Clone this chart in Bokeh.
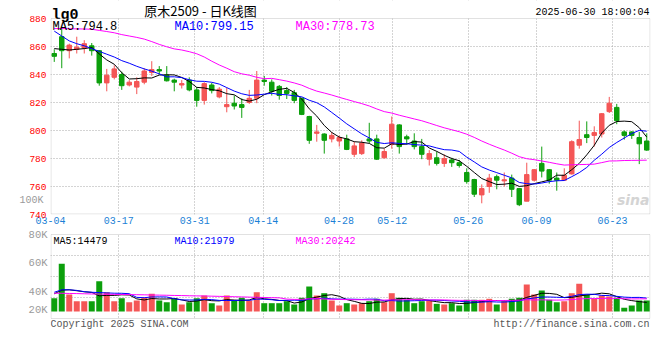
import numpy as np
from bokeh.plotting import figure
from bokeh.layouts import column
from bokeh.models import ColumnDataSource, FixedTicker, Label, Range1d, LinearAxis, BoxAnnotation
from bokeh.core.properties import value
from bokeh.embed import file_html
from bokeh.resources import INLINE

# ---------------- data ----------------
dates = ["03-04", "03-05", "03-06", "03-07", "03-10", "03-11", "03-12", "03-13", "03-14", "03-17",
         "03-18", "03-19", "03-20", "03-21", "03-24", "03-25", "03-26", "03-27", "03-28", "03-31",
         "04-01", "04-02", "04-03", "04-07", "04-08", "04-09", "04-10", "04-11", "04-14", "04-15",
         "04-16", "04-17", "04-18", "04-21", "04-22", "04-23", "04-24", "04-25", "04-28", "04-29",
         "04-30", "05-06", "05-07", "05-08", "05-09", "05-12", "05-13", "05-14", "05-15", "05-16",
         "05-19", "05-20", "05-21", "05-22", "05-23", "05-26", "05-27", "05-28", "05-29", "05-30",
         "06-03", "06-04", "06-05", "06-06", "06-09", "06-10", "06-11", "06-12", "06-13", "06-16",
         "06-17", "06-18", "06-19", "06-20", "06-23", "06-24", "06-25", "06-26", "06-27", "06-30"]

open_ = [855, 867, 857, 858, 859, 860.5, 857, 834, 838, 840,
         832.5, 831, 834.5, 841.5, 843.5, 839.5, 836, 832.5, 836, 829,
         821.5, 832.5, 824, 817, 819.5, 818.5, 820, 823, 836, 834.5,
         831.5, 828.5, 827, 823, 810, 798, 797.5, 794, 792.5, 794,
         783, 783.5, 794, 794, 780.5, 790, 804, 795.5, 792.5, 788.5,
         779.5, 780.5, 776.5, 779, 777, 770, 765, 754, 760, 767,
         764, 766, 758.5, 749.5, 764.5, 776.5, 772, 766, 764.5, 769,
         789.5, 797, 796.5, 797.5, 813.5, 816.5, 799, 799, 795, 792.5]
high = [858, 874, 862, 867, 864.5, 862.5, 857.5, 844, 846.5, 842,
        836, 838, 844.5, 849.5, 846, 846, 837, 836, 838, 831,
        834.5, 834, 831, 830.5, 825, 823, 829, 842.5, 839, 836.5,
        832.5, 831, 829, 823.5, 810.5, 804, 798, 799, 796.5, 797,
        792, 793, 805.5, 797, 787, 810, 804.5, 797, 798, 794,
        786, 785, 783, 780.5, 779, 773, 765.5, 761.5, 769, 768.5,
        770, 768.5, 759, 777, 772.5, 788.5, 772.5, 770, 773, 793,
        807, 806.5, 803, 812.5, 824, 819, 800, 799.5, 799, 798]
low = [849, 844.5, 851.5, 855, 855, 853.5, 832, 828, 836.5, 829,
       831.5, 826, 833, 839, 840, 835, 828, 830, 828, 817,
       818.5, 826.5, 823, 813, 815, 809, 819, 819.5, 832, 825,
       822, 822.5, 819.5, 811, 790.5, 792, 783.5, 791.5, 788.5, 786,
       781, 782.5, 791, 779, 780, 787, 783.5, 790, 786.5, 779.5,
       775, 775, 774, 774, 773.5, 762, 752.5, 748, 755.5, 758,
       760, 752.5, 746, 749.5, 763.5, 766.5, 762, 757, 764, 768.5,
       787, 791, 788.5, 795, 812.5, 804.5, 793.5, 794, 776, 785.5]
close = [853, 857, 861, 859.5, 862, 857, 834, 839.5, 844, 832,
         834.5, 835, 842.5, 843.5, 842.5, 835.5, 834.5, 833.5, 829, 821.5,
         833.5, 828.5, 829.5, 818.5, 817.5, 816.5, 823, 836, 835, 828,
         825, 826.5, 821.5, 811.5, 793, 799, 793, 796.5, 795, 786.5,
         789, 791, 792.5, 779.5, 785, 804.5, 788.5, 794, 788.5, 783,
         783.5, 776.5, 780, 777, 775, 763.5, 754.5, 758.5, 766, 764.5,
         764.8, 758, 747, 768.5, 772, 771, 764.5, 764.5, 768, 792,
         793.5, 795, 798.5, 812, 819.5, 807, 796.5, 796.5, 790.5, 786]
volume = [21500, 76900, 27400, 16600, 16600, 16600, 48900, 31100, 16600, 21500,
          15000, 17700, 22100, 28500, 17700, 15000, 21500, 11300, 15000, 21500,
          25800, 13400, 9700, 25800, 17700, 22100, 17700, 31100, 13400, 13400,
          13400, 16600, 11300, 22100, 40300, 25800, 29500, 17700, 9700, 13400,
          11300, 13400, 16600, 20500, 15000, 29500, 22100, 18900, 13400, 16600,
          17700, 12400, 11300, 13400, 9700, 18900, 18900, 18900, 20500, 11300,
          16600, 20500, 22100, 43500, 27400, 33900, 18900, 15000, 16600, 29500,
          44700, 27400, 20500, 25800, 24200, 22100, 6000, 9700, 17700, 17700]

# moving-average values before a full window exists
ma5_head = [858.5, 858.0, 857.5, 858.0]
ma10_head = [871.0, 867.5, 864.0, 862.0, 860.5, 858.5, 856.5, 854.5, 852.5]
ma30_head = [872.8, 872.8, 872.7, 872.6, 872.5, 872.3, 871.5, 870.7, 869.8, 868.5,
             867.5, 866.5, 865.3, 863.5, 861.5, 859.8, 858.3, 857.5, 856.3, 854.8,
             852.5, 849.5, 846.8, 844.5, 842.0, 840.5, 839.5, 838.0, 837.0]
vol_ma5_head = [28500, 34500, 35000, 33500]
vol_ma10_head = [31000, 35000, 35000, 34000, 32000, 31000, 30500, 30000, 29500]
vol_ma30_head = [29500, 29400, 29100, 28900, 28600, 28300, 28100, 27800, 27600, 27400,
                 27300, 27100, 26900, 26600, 26400, 26200, 25900, 25700, 25400, 25200,
                 25000, 24700, 24400, 24100, 23800, 23500, 23200, 22900, 22600]

date_tick_labels = ["03-04", "03-17", "03-31", "04-14", "04-28", "05-12", "05-26", "06-09", "06-23"]
vol_grid_skip = ["05-12", "06-09"]
price_ticks = [740, 760, 780, 800, 820, 840, 860, 880]
vol_tick_labels = ["20K", "40K", "60K", "80K"]
extra_price_label = {750: "100K"}

ma_texts = ["MA5:794.8", "MA10:799.15", "MA30:778.73"]
vol_ma_texts = ["MA5:14479", "MA10:21979", "MA30:20242"]
symbol_text = "lg0"
title_text = "原木2509 - 日K线图"
time_text = "2025-06-30 18:00:04"
copyright_text = "Copyright 2025 SINA.COM"
url_text = "http://finance.sina.com.cn"

# ---------------- layout / styling ----------------
RED = "#f45656"
GREEN = "#0c9f0c"
MA_COLORS = ["#000000", "#0000ff", "#ff00ff"]
GRID = "#a8a8a8"
BORDER = "#9c9c9c"
MONO = "Liberation Mono"
CJK = "Noto Sans CJK SC"
FRAME_W = 600
LEFT, RIGHT = 50, 10
PRICE_TOP_PX, PRICE_BOT_PX = 18, 214        # price panel border (page pixels)
VOL_TOP_PX, VOL_BOT_PX = 234, 318           # volume panel border
VOL_FIG_TOP, VOL_FIG_BOT = 228, 338         # volume figure extent
VOL_ZERO_PX = 311                           # baseline of volume bars
PX_PER_LOT = 0.62 / 1000.0
vol_label_px = [310, 291, 262, 231]         # where Sina prints 20K/40K/60K/80K

n = len(dates)
x = np.arange(n)
o, h, l, c = (np.asarray(a, float) for a in (open_, high, low, close))
vol = np.asarray(volume, float)
colors = [RED if cc >= oo else GREEN for oo, cc in zip(o, c)]


def moving_average(vals, w, head):
    vals = np.asarray(vals, float)
    out = np.empty(len(vals))
    out[:len(head)] = head
    for i in range(len(head), len(vals)):
        out[i] = vals[i - w + 1:i + 1].mean()
    return out


ma = [moving_average(c, 5, ma5_head), moving_average(c, 10, ma10_head), moving_average(c, 30, ma30_head)]
vma = [moving_average(vol, 5, vol_ma5_head), moving_average(vol, 10, vol_ma10_head),
       moving_average(vol, 30, vol_ma30_head)]

src = ColumnDataSource(dict(x=x, o=o, h=h, l=l, c=c, top=np.maximum(o, c), bottom=np.minimum(o, c),
                            color=colors, vol=vol))

# date gridlines sit at i * n/(n-1) on the candle scale
label_idx = [dates.index(d) for d in date_tick_labels]
tick_pos = [round(g * n / (n - 1) - 0.5, 4) for g in label_idx]
overrides = {t: lab for t, lab in zip(tick_pos, date_tick_labels)}
vol_grid_pos = [t for t, lab in zip(tick_pos, date_tick_labels) if lab not in vol_grid_skip]

xr = Range1d(-0.5, n - 0.5)
px_unit = FRAME_W / n
PRICE_PER_PX = (price_ticks[-1] - price_ticks[0]) / (PRICE_BOT_PX - PRICE_TOP_PX)


def price_at(px):
    return price_ticks[-1] + (PRICE_TOP_PX - px) * PRICE_PER_PX


def vol_at(px):
    return (VOL_ZERO_PX - px) / PX_PER_LOT


def style_axis(ax, color, size, standoff, font=MONO):
    ax.major_label_text_color = color
    ax.major_label_text_font = font
    ax.major_label_text_font_size = size
    ax.major_label_standoff = standoff
    ax.axis_line_color = None
    ax.major_tick_line_color = None
    ax.minor_tick_line_color = None
    ax.major_tick_out = 0
    ax.major_tick_in = 0
    ax.minor_tick_out = 0
    ax.minor_tick_in = 0


def style_grid(g, ticks):
    g.ticker = FixedTicker(ticks=ticks)
    g.grid_line_color = GRID
    g.grid_line_dash = "1 2"
    g.grid_line_width = 1


inset_x = 0.5 / px_unit

# ---------------- price panel (frame also holds the header strip) ----------------
p = figure(frame_width=FRAME_W, frame_height=PRICE_BOT_PX, x_range=xr,
           y_range=Range1d(price_ticks[0], price_at(0)),
           output_backend="svg", toolbar_location=None,
           min_border_left=LEFT, min_border_right=RIGHT, min_border_top=0, min_border_bottom=14)
p.outline_line_color = None

p.yaxis.ticker = FixedTicker(ticks=price_ticks)
style_axis(p.yaxis[0], "#ff0000", "9.5px", 4)

extra_ax = LinearAxis(ticker=FixedTicker(ticks=list(extra_price_label.keys())),
                      major_label_overrides=extra_price_label)
style_axis(extra_ax, "#9a9a9a", "10px", -17)
p.add_layout(extra_ax, "left")

p.xaxis.ticker = FixedTicker(ticks=tick_pos)
p.xaxis.major_label_overrides = overrides
style_axis(p.xaxis[0], "#1a7fd6", "10px", 2)

style_grid(p.xgrid[0], tick_pos)
style_grid(p.ygrid[0], price_ticks[1:-1])

# white header strip hides gridlines above the panel; gray panel border
p.add_layout(BoxAnnotation(bottom=price_ticks[-1], fill_color="white", fill_alpha=1,
                           line_color=None, level="underlay"))
p.add_layout(BoxAnnotation(left=xr.start + inset_x, right=xr.end - inset_x,
                           bottom=price_at(PRICE_BOT_PX - 0.5), top=price_ticks[-1],
                           fill_alpha=0, line_color=BORDER, line_width=1))

p.segment(x0="x", y0="l", x1="x", y1="h", line_color="color", line_width=1, source=src)
p.vbar(x="x", width=0.6, top="top", bottom="bottom", fill_color="color", line_color="color",
       line_width=1, source=src)
for m, col in zip(ma, MA_COLORS):
    p.line(x, m, line_color=col, line_width=1)

for txt, col, off in zip(ma_texts, MA_COLORS, [2, 124, 245]):
    p.add_layout(Label(x=xr.start, y=price_ticks[-1], x_offset=off, y_offset=-1, text=txt,
                       text_color=col, text_font=MONO, text_font_size="12px", text_baseline="top"))
p.add_layout(Label(x=xr.end, y=price_ticks[0], x_offset=-1, y_offset=7, text="sina",
                   text_color="#d4d4d4", text_font="DejaVu Sans", text_font_style="bold italic",
                   text_font_size="14px", text_align="right", text_baseline="bottom"))

# header texts
p.text(x=[xr.start], y=[price_at(14.5)], text=[symbol_text], x_offset=1, text_color="black",
       text_font=value(MONO), text_font_style="bold", text_font_size="15px",
       text_baseline="alphabetic")
p.text(x=[xr.start], y=[price_at(10)], text=[title_text], x_offset=150, text_color="black",
       text_font=value(CJK), text_font_size="13px", text_align="center", text_baseline="middle")
p.text(x=[xr.end], y=[price_at(11.5)], text=[time_text], x_offset=-1, text_color="black",
       text_font=value(MONO), text_font_size="10px", text_align="right", text_baseline="middle")

# ---------------- volume panel (frame also holds the footer strip) ----------------
p2 = figure(frame_width=FRAME_W, frame_height=VOL_FIG_BOT - VOL_FIG_TOP, x_range=xr,
            y_range=Range1d(vol_at(VOL_FIG_BOT), vol_at(VOL_FIG_TOP)),
            output_backend="svg", toolbar_location=None, x_axis_location=None,
            min_border_left=LEFT, min_border_right=RIGHT, min_border_top=0, min_border_bottom=0)
p2.outline_line_color = None

vol_tick_values = [round(vol_at(px)) for px in vol_label_px]
p2.yaxis.ticker = FixedTicker(ticks=vol_tick_values)
p2.yaxis.major_label_overrides = {v: t for v, t in zip(vol_tick_values, vol_tick_labels)}
style_axis(p2.yaxis[0], "#9a9a9a", "10.5px", 3)

style_grid(p2.xgrid[0], vol_grid_pos)
quarter = (VOL_BOT_PX - VOL_TOP_PX) / 4
style_grid(p2.ygrid[0], [vol_at(VOL_TOP_PX + k * quarter) for k in (1, 2, 3)])

p2.add_layout(BoxAnnotation(bottom=vol_at(VOL_TOP_PX), fill_color="white", fill_alpha=1,
                            line_color=None, level="underlay"))
p2.add_layout(BoxAnnotation(top=vol_at(VOL_BOT_PX), fill_color="white", fill_alpha=1,
                            line_color=None, level="underlay"))
p2.add_layout(BoxAnnotation(left=xr.start + inset_x, right=xr.end - inset_x,
                            bottom=vol_at(VOL_BOT_PX), top=vol_at(VOL_TOP_PX),
                            fill_alpha=0, line_color=BORDER, line_width=1))

p2.vbar(x="x", width=0.8, top="vol", bottom=0, fill_color="color", line_color=None, source=src)
for m, col in zip(vma, MA_COLORS):
    p2.line(x, m, line_color=col, line_width=1)

for txt, col, off in zip(vol_ma_texts, MA_COLORS, [3, 124, 245]):
    p2.add_layout(Label(x=xr.start, y=vol_at(VOL_TOP_PX), x_offset=off, y_offset=-1, text=txt,
                        text_color=col, text_font=MONO, text_font_size="10px", text_baseline="top"))

# footer texts
p2.text(x=[xr.start], y=[vol_at(323.5)], text=[copyright_text], x_offset=0, text_color="#555555",
        text_font=value(MONO), text_font_size="10px", text_baseline="middle")
p2.text(x=[xr.end], y=[vol_at(323.5)], text=[url_text], x_offset=-1, text_color="#555555",
        text_font=value(MONO), text_font_size="10px", text_align="right", text_baseline="middle")

layout = column(p, p2, spacing=0)
open("out.html", "w").write(file_html(layout, INLINE))
